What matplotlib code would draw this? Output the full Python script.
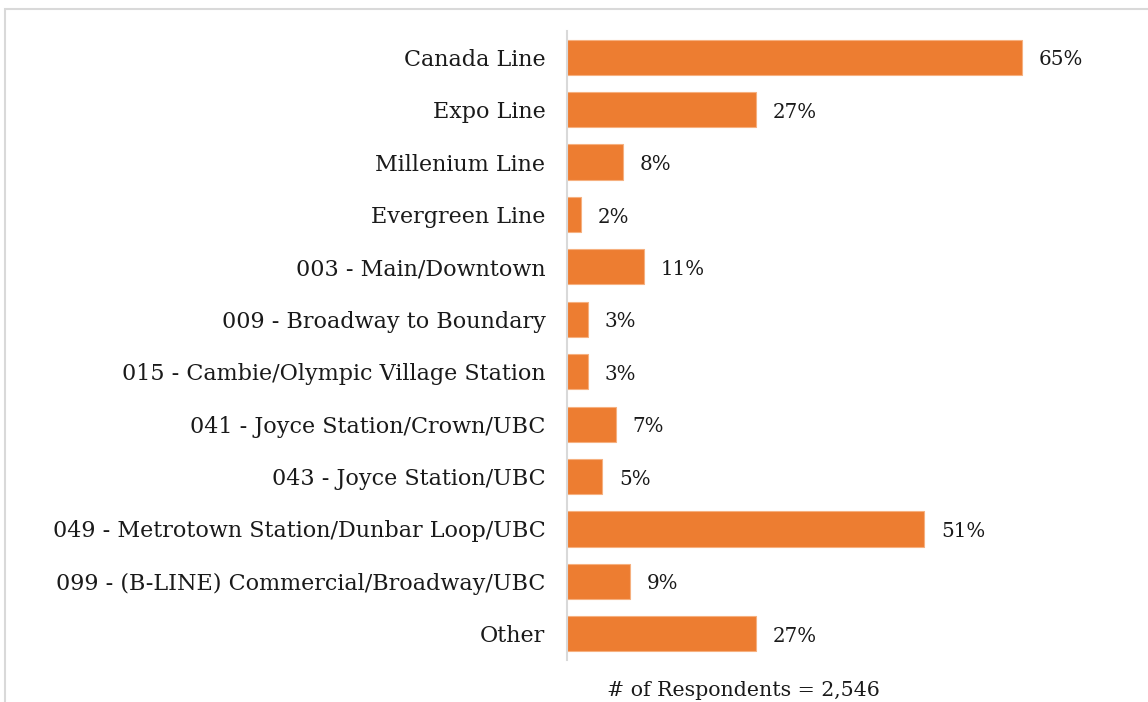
import matplotlib.pyplot as plt
from matplotlib.patches import Rectangle

routes = [
    "Canada Line",
    "Expo Line",
    "Millenium Line",
    "Evergreen Line",
    "003 - Main/Downtown",
    "009 - Broadway to Boundary",
    "015 - Cambie/Olympic Village Station",
    "041 - Joyce Station/Crown/UBC",
    "043 - Joyce Station/UBC",
    "049 - Metrotown Station/Dunbar Loop/UBC",
    "099 - (B-LINE) Commercial/Broadway/UBC",
    "Other",
]
shares = [65, 27, 8, 2, 11, 3, 3, 7, 5, 51, 9, 27]
respondents = "2,546"

plt.rcParams['font.family'] = ['DejaVu Serif']

W, H = 1148, 702
fig = plt.figure(figsize=(W / 100, H / 100), dpi=100)

# light frame around the chart area
fig.patches.append(Rectangle((5 / W, -0.1), 1.2, 1 - 9 / H + 0.1, transform=fig.transFigure,
                             fill=False, edgecolor='#D9D9D9', linewidth=1.5))

ax = fig.add_axes([567 / W, 1 - 660 / H, 1 - 567 / W, (660 - 31) / H])
pos = list(range(len(routes)))
ax.barh(pos, shares, height=0.67, color='#ED7D31', edgecolor='#F6B07F', linewidth=0.8)
ax.set_ylim(len(routes) - 0.5, -0.5)
ax.set_xlim(0, (W - 567) / 7.0)

for p, v in zip(pos, shares):
    ax.text(v + 2.4, p + 0.05, f"{v}%", va='center', ha='left', fontsize=14.3, color='#1a1a1a')

ax.set_yticks(pos)
ax.set_yticklabels(routes, fontsize=16, color='#1a1a1a', va='center_baseline')
ax.tick_params(axis='y', length=0, pad=15.5)
ax.set_xticks([])
for s in ['top', 'right', 'bottom']:
    ax.spines[s].set_visible(False)
ax.spines['left'].set_color('#D9D9D9')
ax.spines['left'].set_linewidth(1.5)

fig.text(743 / W, 1 - 690 / H, f"# of Respondents = {respondents}", ha='center', va='center',
         fontsize=14.8, color='#1a1a1a')

fig.savefig('out.png', dpi=100)
